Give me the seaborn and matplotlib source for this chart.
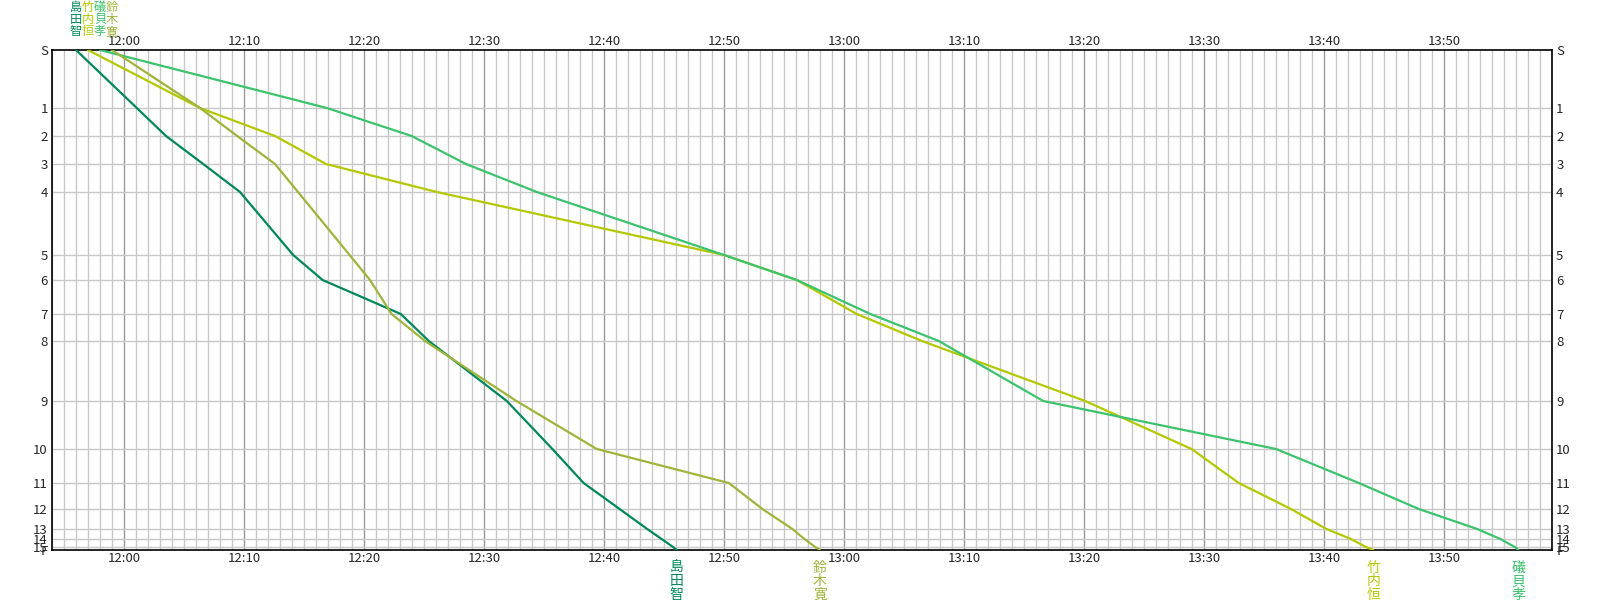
import matplotlib
matplotlib.use("Agg")
import matplotlib.pyplot as plt
import matplotlib.transforms as mtransforms
import pandas as pd
import seaborn as sns

# ---- data -------------------------------------------------------------
controls = ["S", "1", "2", "3", "4", "5", "6", "7", "8", "9", "10",
            "11", "12", "13", "14", "15", "F"]
# cumulative course position of each control (vertical scale of the chart)
control_pos = [0, 58, 86, 114, 142, 205, 230, 264, 291, 351, 399,
               433, 459, 479, 489, 497, 500]

runners = ["島田智", "竹内恒", "礒貝孝", "鈴木寛"]
colors = ["#00875a", "#b4c800", "#3cc36e", "#a0b43c"]

split_shimada = ["11:56:00", "12:01:04", "12:03:30", "12:06:36", "12:09:40",
                 "12:14:06", "12:16:33", "12:23:04", "12:25:24", "12:31:54",
                 "12:35:42", "12:38:18", "12:41:18", "12:43:36", "12:44:48",
                 "12:45:45", "12:46:04"]
split_takeuchi = ["11:57:00", "12:06:20", "12:12:35", "12:16:50", "12:26:04",
                  "12:50:00", "12:56:04", "13:01:04", "13:06:30", "13:20:06",
                  "13:28:58", "13:32:54", "13:37:15", "13:40:12", "13:42:15",
                  "13:43:30", "13:44:06"]
split_isogai = ["11:58:00", "12:16:54", "12:23:58", "12:28:30", "12:34:24",
                "12:50:00", "12:56:04", "13:02:12", "13:07:54", "13:16:36",
                "13:36:00", "13:42:54", "13:47:54", "13:52:46", "13:54:42",
                "13:55:54", "13:56:12"]
split_suzuki = ["11:59:00", "12:06:20", "12:09:26", "12:12:35", "12:14:30",
                "12:18:48", "12:20:30", "12:22:18", "12:25:05", "12:32:42",
                "12:39:24", "12:50:24", "12:53:12", "12:55:42", "12:56:42",
                "12:57:36", "12:58:00"]

time_ticks = ["12:00", "12:10", "12:20", "12:30", "12:40", "12:50",
              "13:00", "13:10", "13:20", "13:30", "13:40", "13:50"]
x_start, x_end = "11:54", "13:59"


def to_min(s):
    parts = [int(p) for p in s.split(":")]
    while len(parts) < 3:
        parts.append(0)
    h, m, sec = parts
    return (h - 12) * 60 + m + sec / 60.0


splits = [split_shimada, split_takeuchi, split_isogai, split_suzuki]
rows = []
for name, sp in zip(runners, splits):
    for c, p, t in zip(controls, control_pos, sp):
        rows.append({"runner": name, "control": c, "pos": p, "t": to_min(t)})
df = pd.DataFrame(rows)

# ---- figure -------------------------------------------------------------
sns.set_style("white")
plt.rcParams["font.family"] = ["Noto Sans CJK JP", "DejaVu Sans"]

W, H = 1604, 600
fig = plt.figure(figsize=(W / 100, H / 100), dpi=100)
L, T, R, B = 52, 50, 1552, 550
ax = fig.add_axes([L / W, 1 - B / H, (R - L) / W, (B - T) / H])

x0, x1 = to_min(x_start), to_min(x_end)
ax.set_xlim(x0, x1)
ax.set_ylim(control_pos[-1], control_pos[0])

# grid
for m in range(int(x0), int(x1) + 1):
    major = (m % 10 == 0)
    ax.axvline(m, color="#9a9a9a" if major else "#c8c8c8", lw=1.0, zorder=0)
for p in control_pos[1:-1]:
    ax.axhline(p, color="#c8c8c8", lw=1.0, zorder=0)

sns.lineplot(data=df, x="t", y="pos", hue="runner", hue_order=runners,
             palette=dict(zip(runners, colors)), sort=False, estimator=None,
             legend=False, linewidth=1.6, ax=ax, zorder=3)

ax.set_xlabel("")
ax.set_ylabel("")
ax.set_xticks([to_min(t) for t in time_ticks])
ax.set_xticklabels(time_ticks)
ax.set_yticks(control_pos)
ax.set_yticklabels(controls)
ax.tick_params(axis="x", which="both", length=0, top=True, labeltop=True,
               bottom=True, labelbottom=True, pad=1.5, labelsize=9.5)
ax.tick_params(axis="y", which="both", length=0, left=True, labelleft=True,
               right=True, labelright=True, pad=3, labelsize=9.5)
for s in ax.spines.values():
    s.set_color("black")
    s.set_linewidth(1.2)
    s.set_visible(True)

# runner names: vertical at start (top) and at finish (bottom)
tr = mtransforms.blended_transform_factory(ax.transData, fig.transFigure)
for name, sp, col in zip(runners, splits, colors):
    ts = to_min(sp[0])
    tf = to_min(sp[-1])
    for i, ch in enumerate(name):
        ax.text(ts, 1 - (7 + 12.5 * i) / H, ch, transform=tr, color=col,
                ha="center", va="center", fontsize=8.8, clip_on=False)
        ax.text(tf, 1 - (568 + 13.5 * i) / H, ch, transform=tr, color=col,
                ha="center", va="center", fontsize=10, clip_on=False)

fig.savefig("out.png", dpi=100)
